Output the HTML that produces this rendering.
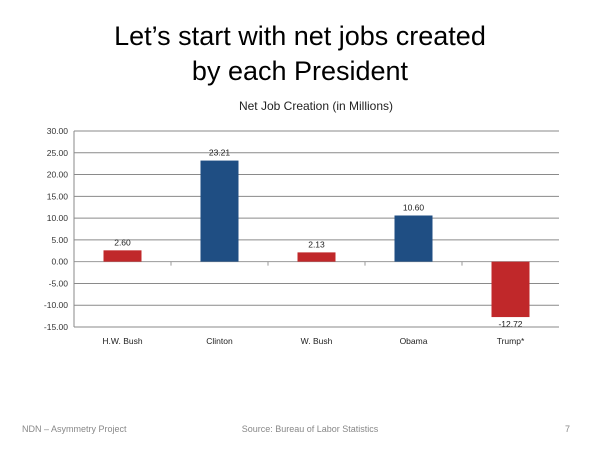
<!DOCTYPE html>
<html><head><meta charset="utf-8"><style>
body{margin:0;background:#fff;}
svg{display:block;font-family:"Liberation Sans",sans-serif;}
</style></head><body>
<svg id="c" width="600" height="450">
<text x="300" y="45" font-size="27" text-anchor="middle" fill="#000">Let’s start with net jobs created</text>
<text x="300" y="80" font-size="27" text-anchor="middle" fill="#000">by each President</text>
<text x="316" y="110" font-size="12" text-anchor="middle" fill="#222">Net Job Creation (in Millions)</text>
<g id="grid"></g><g id="bars"></g><g id="labels"></g>
<text x="22" y="432" font-size="9" fill="#888">NDN – Asymmetry Project</text>
<text x="310" y="432" font-size="9" fill="#888" text-anchor="middle">Source: Bureau of Labor Statistics</text>
<text x="565" y="432" font-size="9" fill="#888">7</text>
</svg>
<script>
const categories=["H.W. Bush","Clinton","W. Bush","Obama","Trump*"];
const values=[2.60,23.21,2.13,10.60,-12.72];
const colors=["#c0282a","#1f4e83","#c0282a","#1f4e83","#c0282a"];
const ticks=[30,25,20,15,10,5,0,-5,-10,-15];
const NS="http://www.w3.org/2000/svg";
const x0=74,x1=559,yTop=131,yBot=327,vMax=30,vMin=-15;
const y=v=>yTop+(vMax-v)/(vMax-vMin)*(yBot-yTop);
const bw=(x1-x0)/categories.length;
const xc=i=>x0+bw*(i+0.5);
function mk(t,a,p){const e=document.createElementNS(NS,t);for(const k in a)e.setAttribute(k,a[k]);p.appendChild(e);return e;}
const g=document.getElementById('grid'),b=document.getElementById('bars'),l=document.getElementById('labels');
ticks.forEach(t=>{
 const ln=mk('line',{x1:x0,x2:x1,y1:y(t),y2:y(t),stroke:t===0?'#999':'#8a8a8a','stroke-width':1},g);
 
 
 const tx=mk('text',{x:x0-6,y:y(t)+3,'font-size':8.5,'text-anchor':'end',fill:'#333'},g);
 tx.textContent=t.toFixed(2);
 
 
});
const ax=mk('line',{x1:x0,x2:x0,y1:yTop,y2:yBot,stroke:'#8a8a8a'},g);


for(let i=1;i<categories.length;i++){
 const tk=mk('line',{x1:x0+bw*i,x2:x0+bw*i,y1:y(0),y2:y(0)+4,stroke:'#999'},g);
 
 
}
categories.forEach((c,i)=>{
 const v=values[i];
 const r=mk('rect',{x:xc(i)-19,width:38,y:Math.min(y(v),y(0)),height:Math.abs(y(v)-y(0)),fill:colors[i]},b);
 
 
 const vl=mk('text',{x:xc(i),y:v>=0?y(v)-5:y(v)+10,'font-size':8.5,'text-anchor':'middle',fill:'#222'},l);
 vl.textContent=v.toFixed(2);
 
 
 const cl=mk('text',{x:xc(i),y:y(vMin)+17,'font-size':8.5,'text-anchor':'middle',fill:'#222'},l);
 cl.textContent=c;
 
 
});
</script>
</body></html>
